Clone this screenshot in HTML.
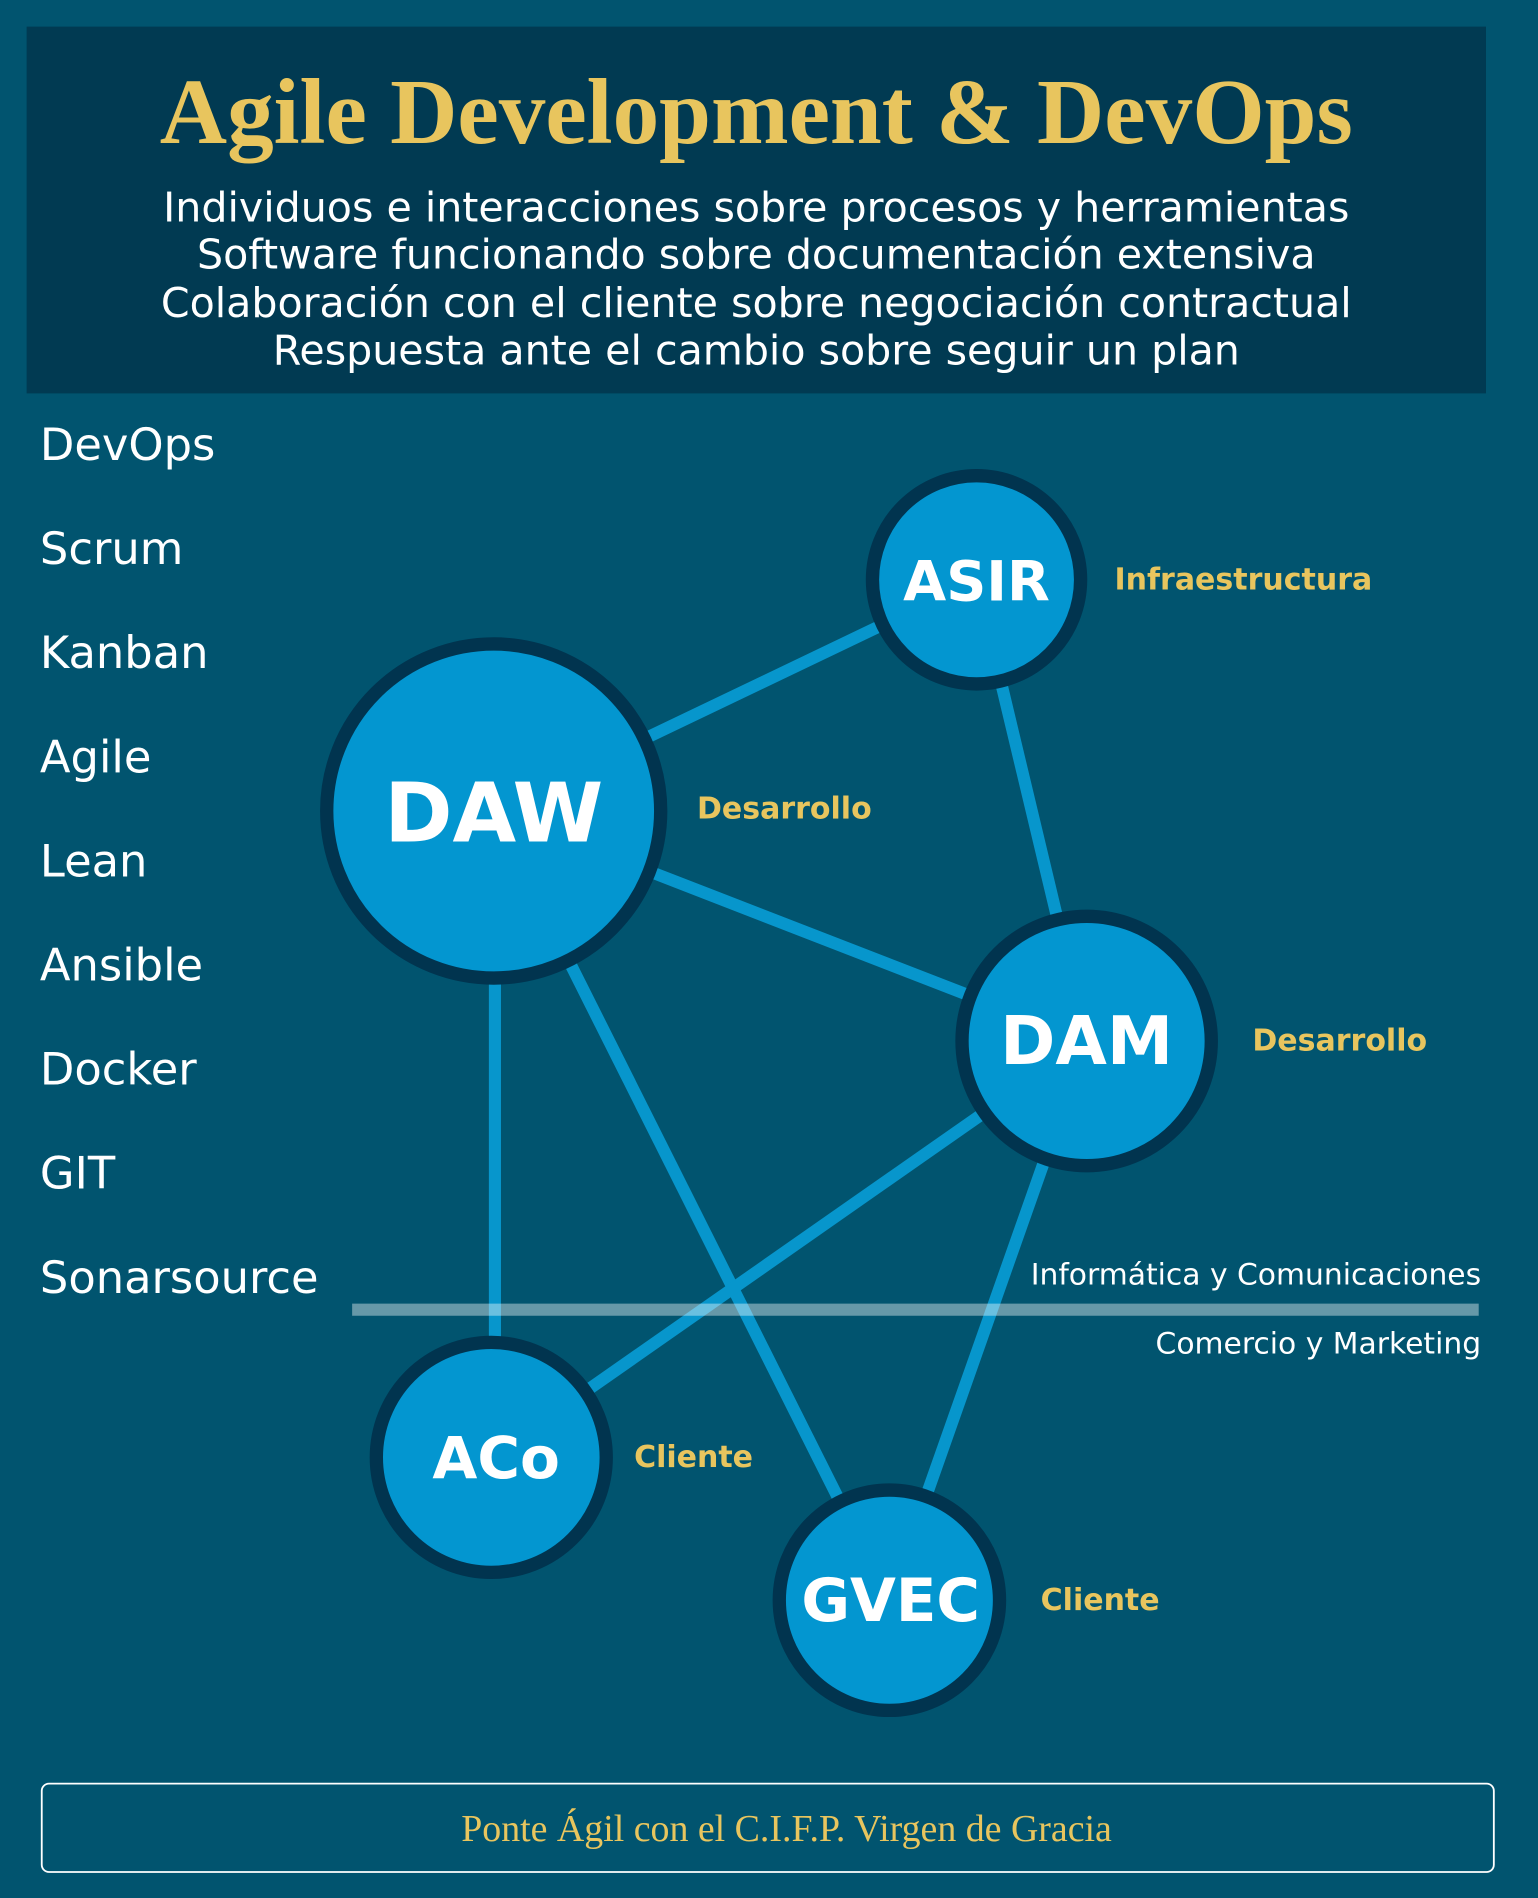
<!DOCTYPE html>
<html><head><meta charset="utf-8"><style>
html,body{margin:0;padding:0;background:#01546f;}
svg{display:block;}
</style></head><body>
<svg width="1538" height="1898" viewBox="0 0 1271 1568" preserveAspectRatio="none" xmlns="http://www.w3.org/2000/svg">
<rect width="1271" height="1568" fill="#01546f"/>
<rect x="22" y="22" width="1206" height="303" fill="#013a52"/>
<text x="625" y="118" text-anchor="middle" font-family="Liberation Serif, serif" font-weight="bold" font-size="77" fill="#e8c55e">Agile Development &amp; DevOps</text>
<g font-family="DejaVu Sans, sans-serif" font-size="34" fill="#fff" text-anchor="middle">
<text x="625" y="183">Individuos e interacciones sobre procesos y herramientas</text>
<text x="625" y="222">Software funcionando sobre documentación extensiva</text>
<text x="625" y="262">Colaboración con el cliente sobre negociación contractual</text>
<text x="625" y="301">Respuesta ante el cambio sobre seguir un plan</text>
</g>
<g font-family="DejaVu Sans, sans-serif" font-size="37" fill="#fff">
<text x="33" y="380">DevOps</text>
<text x="33" y="466">Scrum</text>
<text x="33" y="552">Kanban</text>
<text x="33" y="638">Agile</text>
<text x="33" y="724">Lean</text>
<text x="33" y="810">Ansible</text>
<text x="33" y="896">Docker</text>
<text x="33" y="982">GIT</text>
<text x="33" y="1068">Sonarsource</text>
</g>
<g stroke="#0796cc" stroke-width="10">
<line x1="408" y1="670" x2="807" y2="479"/>
<line x1="807" y1="479" x2="898" y2="860"/>
<line x1="408" y1="670" x2="898" y2="860"/>
<line x1="409" y1="670" x2="409" y2="1204"/>
<line x1="408" y1="670" x2="735" y2="1322"/>
<line x1="898" y1="860" x2="406" y2="1204"/>
<line x1="898" y1="860" x2="735" y2="1322"/>
</g>
<line x1="291" y1="1082" x2="1222" y2="1082" stroke="#ffffff" stroke-opacity="0.4" stroke-width="10"/>
<g font-family="DejaVu Sans, sans-serif" font-size="24.6" fill="#fff" text-anchor="end">
<text x="1224" y="1061">Informática y Comunicaciones</text>
<text x="1224" y="1118">Comercio y Marketing</text>
</g>
<g fill="#0396d0" stroke="#01344f" stroke-width="11">
<circle cx="807" cy="479" r="86"/>
<circle cx="408" cy="670" r="138"/>
<circle cx="898" cy="860" r="103"/>
<circle cx="406" cy="1204" r="95"/>
<circle cx="735" cy="1322" r="91"/>
</g>
<g font-family="DejaVu Sans, sans-serif" font-weight="bold" fill="#fff" text-anchor="middle">
<text x="807" y="496" font-size="46">ASIR</text>
<text x="408" y="695" font-size="68">DAW</text>
<text x="898" y="879" font-size="55">DAM</text>
<text x="410" y="1221" font-size="48">ACo</text>
<text x="736" y="1339" font-size="49">GVEC</text>
</g>
<g font-family="DejaVu Sans, sans-serif" font-weight="bold" font-size="24.8" fill="#e8c55e">
<text x="921" y="487">Infraestructura</text>
<text x="576" y="676">Desarrollo</text>
<text x="1035" y="868">Desarrollo</text>
<text x="524" y="1212">Cliente</text>
<text x="860" y="1330">Cliente</text>
</g>
<rect x="34.5" y="1473.5" width="1200" height="73" rx="6" fill="none" stroke="#fff" stroke-width="1.5"/>
<text x="650" y="1521" text-anchor="middle" font-family="Liberation Serif, serif" font-size="31.3" fill="#e8c55e">Ponte Ágil con el C.I.F.P. Virgen de Gracia</text>
</svg>
</body></html>
